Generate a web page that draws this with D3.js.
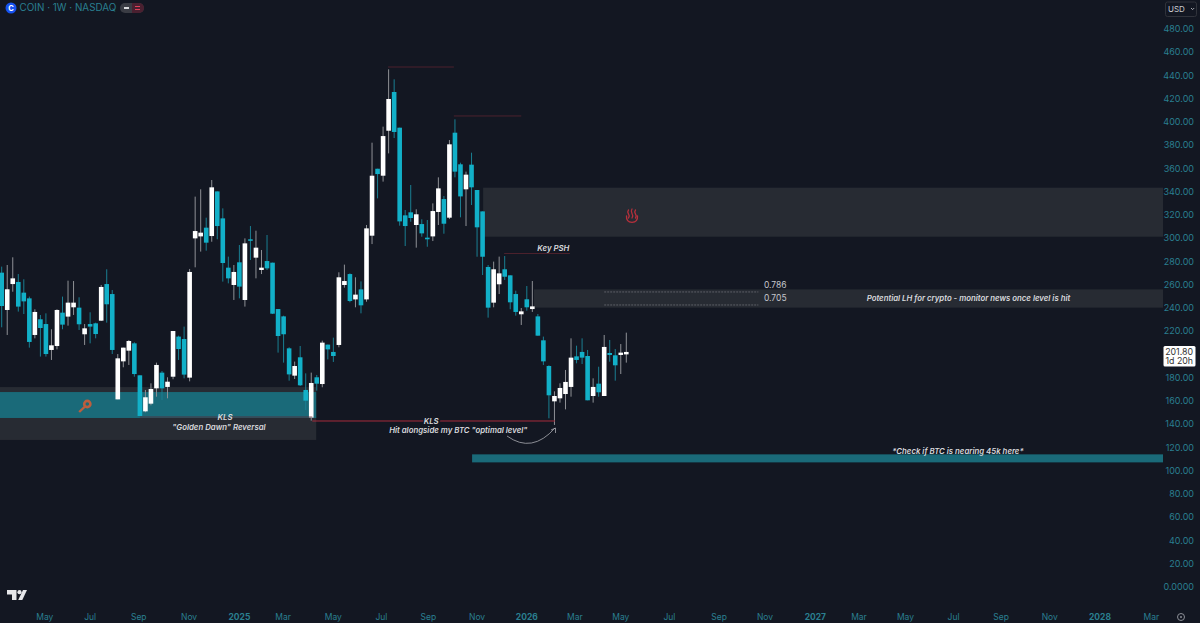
<!DOCTYPE html>
<html>
<head>
<meta charset="utf-8">
<script src="https://cdn.jsdelivr.net/npm/d3@7"></script>
<style>
  html, body { margin: 0; padding: 0; background: #131722; overflow: hidden; }
  text { font-family: Inter, "Noto Sans", sans-serif; }
</style>
</head>
<body>
<div id="chart"></div>
<script>
// weekly candles (oldest first)
var opens = [270.4,238.3,260.6,262.4,253.2,248.3,216.8,230.3,226.2,203.9,207.3,236.0,232.6,240.6,240.3,217.4,226.2,226.8,229.1,260.6,
  252.0,161.4,194.1,203.3,209.6,182.1,151.1,157.7,170.9,184.4,172.1,180.9,215.4,213.3,180.1,299.9,301.6,309.1,301.9,340.3,
  317.1,274.7,259.8,279.3,246.9,299.1,283.3,272.7,280.4,279.0,239.1,232.8,205.3,181.8,197.6,169.5,145.7,180.4,174.6,208.5,
  202.2,208.2,259.8,269.2,247.4,256.0,247.4,302.2,359.8,353.8,392.5,425.8,395.1,319.7,322.3,311.4,312.2,300.5,301.6,322.6,
  333.7,317.7,390.8,363.6,342.1,363.3,341.5,323.1,275.3,244.6,260.4,273.3,268.1,252.0,234.6,247.5,239.1,232.8,212.2,190.1,
  159.7,162.3,166.0,172.1,198.4,202.2,198.7,164.3,174.9,164.3,201.3,199.3,199.6,200.1];
var highs = [275.6,277.0,283.6,269.2,264.7,249.8,238.9,234.0,235.4,221.7,238.9,249.8,263.5,263.2,249.2,226.2,236.3,227.4,259.8,273.3,
  255.5,200.4,205.9,212.5,210.5,182.1,169.5,175.2,193.0,185.8,180.4,220.2,216.2,224.0,273.6,335.8,342.1,317.7,350.1,340.3,
  325.7,284.2,277.0,294.2,299.9,310.5,306.5,289.9,302.8,279.0,239.1,233.4,206.2,193.9,207.3,183.8,184.4,182.4,211.9,208.5,
  214.5,270.7,277.3,269.8,266.4,262.9,311.4,382.2,359.8,396.0,445.3,436.7,395.1,324.3,345.8,324.9,316.3,315.7,330.0,352.4,
  336.3,384.5,402.3,365.0,357.3,373.6,341.5,323.1,277.0,279.9,284.2,284.7,268.1,254.9,240.0,258.9,263.2,234.8,215.4,190.7,
  168.3,175.2,186.7,213.9,207.6,213.9,203.9,179.5,189.5,216.8,212.5,204.7,209.0,218.8];
var lows = [223.4,216.8,254.0,236.9,234.8,205.9,213.9,198.2,198.2,195.3,204.4,221.7,224.8,234.0,221.1,208.2,209.6,213.9,228.8,227.4,
  200.4,161.4,189.0,191.0,180.9,147.1,150.3,156.3,163.7,160.9,162.3,178.7,195.3,179.5,176.9,275.0,288.5,289.3,297.0,299.1,
  262.7,261.2,246.9,248.3,241.2,281.3,265.5,269.2,272.7,234.8,201.6,193.0,177.5,178.9,172.9,152.3,143.1,168.9,171.8,195.8,
  193.6,206.2,257.5,244.9,240.6,235.4,245.4,295.0,334.3,348.7,373.0,386.2,310.8,293.3,314.2,291.9,301.3,292.7,297.6,311.4,
  303.9,316.5,352.4,318.0,310.5,328.6,284.1,268.4,231.7,240.6,252.0,264.1,238.9,233.4,225.4,237.7,236.6,216.2,191.0,145.1,
  139.4,158.6,152.8,163.7,192.4,191.8,160.6,158.6,163.7,164.3,193.8,177.5,183.2,193.0];
var closes = [241.7,256.1,265.5,241.2,245.7,210.8,236.6,222.8,200.4,207.9,238.3,225.7,244.6,244.6,226.0,222.5,224.0,217.6,258.1,243.2,
  203.9,196.7,205.9,211.6,183.2,147.1,163.2,170.3,191.0,170.9,176.6,220.2,204.7,182.7,271.0,306.2,304.8,296.2,343.8,310.5,
  278.7,265.5,271.0,258.4,295.6,298.2,291.9,274.7,274.1,235.1,215.9,217.4,182.9,190.1,173.5,160.3,175.5,174.9,210.2,204.4,
  198.7,266.4,263.2,246.0,251.5,242.3,308.5,353.8,355.2,387.9,419.8,391.4,314.5,310.5,317.4,320.6,304.2,299.1,323.4,342.9,
  312.5,380.8,357.3,336.0,354.7,343.8,309.4,284.1,240.3,273.3,269.8,266.9,244.9,236.6,237.1,240.6,241.4,216.2,194.1,164.9,
  164.3,171.2,176.4,197.3,195.3,197.3,160.6,172.1,167.5,206.5,199.6,190.7,201.6,202.2];

// price axis
var priceTicks = [480,460,440,420,400,380,360,340,320,300,280,260,240,220,180,160,140,120,100,80,60,40,20];
var zeroLabel = "0.0000";
var lastPrice = "201.80";
var countdown = "1d 20h";

// time axis, week position of each label
var timeLabels = ["May","Jul","Sep","Nov","2025","Mar","May","Jul","Sep","Nov","2026","Mar","May","Jul","Sep","Nov","2027","Mar","May","Jul","Sep","Nov","2028","Mar"];
var timeWeeks = [7.8,16,24.8,33.9,43,50.9,60,68.7,77.2,86,95,103.7,112,120.8,129.8,138.1,147.2,155.1,163.5,172.2,180.8,189.6,198.7,208];

// zones: [week from, week to, price top, price bottom]
var grayZones = [[-1,56.9,172,126.5],[87.1,211,343.5,301.3],[96.3,211,256,240.3]];
var tealZones = [[-1,56.9,167.7,145.4],[85.1,211,114.1,107.2]];
// red levels: [week from, week to, price]
var redLevels = [[69.9,81.8,447.3],[81.8,94,405.2],[90.9,102.8,286.9],[56.2,100.1,142.8],[25,56.2,146.2]];
// fib levels: [week from, week to, price, label]
var fibLevels = [[109,136.9,253.8,"0.786"],[109,136.9,242.6,"0.705"]];
// notes: [week, price, text]
var notes = [[40.4,146.2,"KLS"],[39.3,137.5,"\"Golden Dawn\" Reversal"],[77.7,142.8,"KLS"],[82.6,134.8,"Hit alongside my BTC \"optimal level\""],
  [99.8,291.2,"Key PSH"],[174.9,248,"Potential LH for crypto - monitor news once level is hit"],[173,117,"*Check if BTC is nearing 45k here*"]];

var width = 1200, height = 623;
var bg = "#131722", up = "#ffffff", down = "#12b0c8", upWick = "#8f9196", downWick = "#1a7f92", axisCol = "#2a7f90";

var svg = d3.select("#chart").append("svg").attr("width", width).attr("height", height).style("display", "block");
var x = d3.scaleLinear().domain([0, 113]).range([1.7, 626.3]);
var y = d3.scaleLinear().domain([0, 480]).range([587, 29]);
var plotRight = 1163;

var plot = svg.append("g");
plot.append("defs").append("clipPath").attr("id", "pane").append("rect").attr("width", plotRight).attr("height", height);
plot.attr("clip-path", "url(#pane)");

plot.selectAll(".gray").data(grayZones).enter().append("rect")
  .attr("x", d => x(d[0])).attr("width", d => x(d[1]) - x(d[0]))
  .attr("y", d => y(d[2])).attr("height", d => y(d[3]) - y(d[2]))
  .attr("fill", "#272b33");
plot.selectAll(".teal").data(tealZones).enter().append("rect")
  .attr("x", d => x(d[0])).attr("width", d => x(d[1]) - x(d[0]))
  .attr("y", d => y(d[2])).attr("height", d => y(d[3]) - y(d[2]))
  .attr("fill", "#1a6a79");

// candles
var weeks = d3.range(opens.length);
plot.selectAll(".wick").data(weeks).enter().append("line")
  .attr("x1", i => x(i)).attr("x2", i => x(i))
  .attr("y1", i => y(highs[i])).attr("y2", i => y(lows[i]))
  .attr("stroke", i => closes[i] >= opens[i] ? upWick : downWick)
  .attr("stroke-width", 1);
plot.selectAll(".body").data(weeks).enter().append("rect")
  .attr("x", i => x(i) - 2.3).attr("width", 4.6)
  .attr("y", i => y(Math.max(opens[i], closes[i])))
  .attr("height", i => Math.max(1.5, Math.abs(y(opens[i]) - y(closes[i]))))
  .attr("fill", i => closes[i] >= opens[i] ? up : down);

plot.selectAll(".red").data(redLevels).enter().append("line")
  .attr("x1", d => x(d[0])).attr("x2", d => x(d[1]))
  .attr("y1", d => y(d[2])).attr("y2", d => y(d[2]))
  .attr("stroke", (d, i) => i == 3 ? "#a62c3c" : "#5c2431").attr("stroke-width", (d, i) => i == 3 ? 1 : 0.8);

plot.selectAll(".fib").data(fibLevels).enter().append("line")
  .attr("x1", d => x(d[0])).attr("x2", d => x(d[1]))
  .attr("y1", d => y(d[2])).attr("y2", d => y(d[2]))
  .attr("stroke", "#74777e").attr("stroke-width", 0.7).attr("stroke-dasharray", "2 1");
plot.selectAll(".fibText").data(fibLevels).enter().append("text")
  .attr("x", d => x(d[1]) + 5.5).attr("y", d => y(d[2]) - 7)
  .attr("dy", "0.35em").attr("font-size", 8.5).attr("fill", "#c4c6cc").text(d => d[3]);

plot.selectAll(".note").data(notes).enter().append("text")
  .attr("x", d => x(d[0])).attr("y", d => y(d[1]))
  .attr("dy", "0.35em").attr("text-anchor", "middle")
  .attr("font-size", 7.8).attr("font-weight", 600).attr("font-style", "italic")
  .attr("fill", "#d9dade")
  .attr("paint-order", "stroke")
  .attr("stroke", (d, i) => i == 2 ? bg : "none").attr("stroke-width", 3)
  .text(d => d[2]);

// curved arrow under the BTC note
plot.append("path").attr("d", "M507,436 Q532,454 555,428").attr("fill", "none").attr("stroke", "#a9abb1").attr("stroke-width", 0.8);
plot.append("path").attr("d", "M551,430 L555.5,428 L555.5,433").attr("fill", "none").attr("stroke", "#a9abb1").attr("stroke-width", 0.8);

// hot springs mark
var hot = plot.append("g").attr("fill", "none").attr("stroke", "#b5303c").attr("stroke-width", 1.3).attr("stroke-linecap", "round");
hot.append("path").attr("d", "M628.5,210 q-1.5,2 0,4 q1.5,2 0,4");
hot.append("path").attr("d", "M632,209 q-1.5,2.2 0,4.5 q1.5,2.2 0,4.5");
hot.append("path").attr("d", "M635.5,210 q-1.5,2 0,4 q1.5,2 0,4");
hot.append("path").attr("d", "M626.5,216 q-0.5,6 5.5,6.3 q6,-0.3 5.5,-6.3");

// key mark
var key = plot.append("g");
key.append("circle").attr("cx", 87.3).attr("cy", 404).attr("r", 3.1).attr("fill", "none").attr("stroke", "#bc5e3e").attr("stroke-width", 2.6);
key.append("line").attr("x1", 85).attr("y1", 406.5).attr("x2", 79.2).attr("y2", 412).attr("stroke", "#bc5e3e").attr("stroke-width", 2.4);

// price axis labels
var axis = svg.append("g");
axis.selectAll(".price").data(priceTicks).enter().append("text")
  .attr("x", 1194).attr("y", d => y(d)).attr("dy", "0.35em")
  .attr("text-anchor", "end").attr("font-size", 9).attr("fill", axisCol)
  .text(d => d3.format(".2f")(d));
axis.append("text").attr("x", 1194).attr("y", y(0)).attr("dy", "0.35em").attr("text-anchor", "end")
  .attr("font-size", 9).attr("fill", axisCol).text(zeroLabel);

// last price tag
var closeY = y(closes[closes.length - 1]);
axis.append("rect").attr("x", 1163.5).attr("y", closeY - 6).attr("width", 32).attr("height", 20.5).attr("rx", 1.5).attr("fill", "#fff");
axis.append("text").attr("x", 1193).attr("y", closeY - 0.5).attr("dy", "0.35em").attr("text-anchor", "end")
  .attr("font-size", 8.8).attr("fill", "#333").text(lastPrice);
axis.append("text").attr("x", 1193).attr("y", closeY + 9).attr("dy", "0.35em").attr("text-anchor", "end")
  .attr("font-size", 8.8).attr("fill", "#333").text(countdown);

// time axis labels
axis.selectAll(".time").data(timeLabels).enter().append("text")
  .attr("x", (d, i) => x(timeWeeks[i])).attr("y", 617).attr("dy", "0.35em")
  .attr("text-anchor", "middle").attr("font-size", 8.5)
  .attr("font-weight", d => d.length == 4 ? 700 : 400)
  .attr("fill", axisCol).text(d => d);

// USD box
axis.append("rect").attr("x", 1165.5).attr("y", 2).attr("width", 31).attr("height", 14.5).attr("rx", 2)
  .attr("fill", "#131722").attr("stroke", "#30333b");
axis.append("text").attr("x", 1168).attr("y", 9).attr("dy", "0.35em").attr("font-size", 8).attr("fill", "#c9cbd0").text("USD");
axis.append("path").attr("d", "M1191,8 L1192.6,9.6 L1194.2,8").attr("fill", "none").attr("stroke", "#c9cbd0").attr("stroke-width", 0.8);

// settings circle, bottom right
axis.append("circle").attr("cx", 1181).attr("cy", 617).attr("r", 3.5).attr("fill", "none").attr("stroke", "#8b8e96").attr("stroke-width", 1);
axis.append("circle").attr("cx", 1181).attr("cy", 617).attr("r", 1).attr("fill", "#8b8e96");

// title
var head = svg.append("g");
head.append("circle").attr("cx", 11).attr("cy", 8).attr("r", 5.5).attr("fill", "#1652f0");
head.append("text").attr("x", 11).attr("y", 8).attr("dy", "0.35em").attr("text-anchor", "middle")
  .attr("font-size", 7.5).attr("font-weight", 700).attr("fill", "#fff").text("C");
head.append("text").attr("x", 19.5).attr("y", 8).attr("dy", "0.35em").attr("font-size", 9.9).attr("fill", axisCol).text("COIN \u00b7 1W \u00b7 NASDAQ");
head.append("rect").attr("x", 120).attr("y", 3).attr("width", 24).attr("height", 10).attr("rx", 5).attr("fill", "#3a3c44");
head.append("path").attr("d", "M132,3 h7 a5,5 0 0 1 0,10 h-7 z").attr("fill", "#4a2030");
head.append("rect").attr("x", 124).attr("y", 7).attr("width", 5).attr("height", 2).attr("fill", "#d8d9dc");
head.append("rect").attr("x", 135).attr("y", 6).attr("width", 5).attr("height", 1).attr("fill", "#e0405a");
head.append("rect").attr("x", 135).attr("y", 9).attr("width", 5).attr("height", 1).attr("fill", "#e0405a");

// TV mark
var logo = svg.append("g").attr("fill", "#e6e7ea");
logo.append("path").attr("d", "M7,590 H16.5 V600 H12 V594.5 H7 Z");
logo.append("circle").attr("cx", 19.5).attr("cy", 592.2).attr("r", 2.1);
logo.append("path").attr("d", "M23,590 H27 L22.3,600 H18.2 Z");
</script>
</body>
</html>
